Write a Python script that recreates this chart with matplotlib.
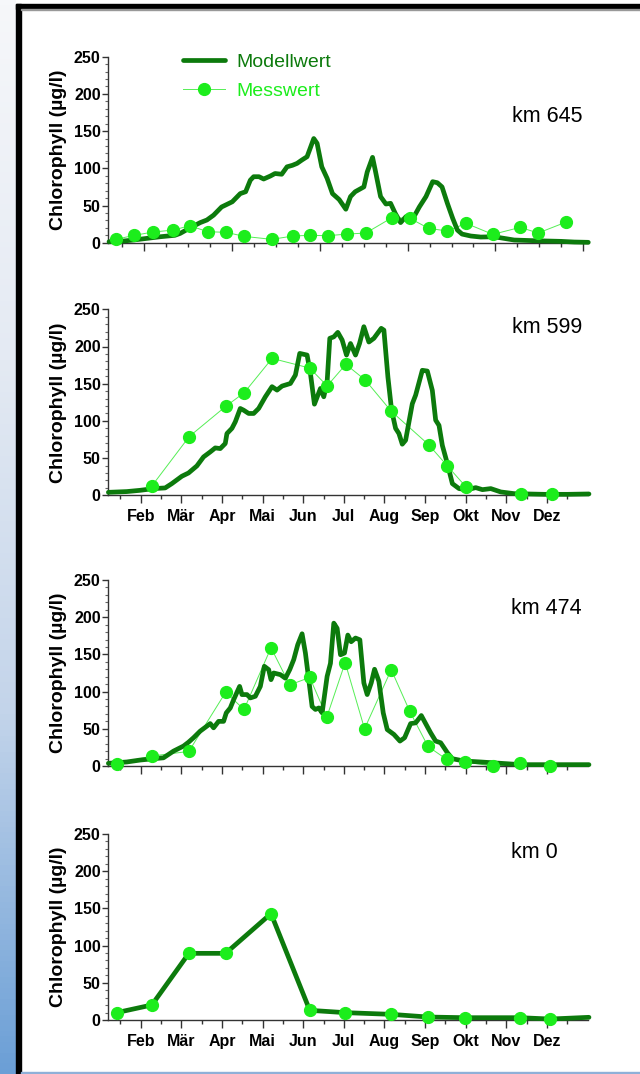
import numpy as np
import matplotlib.pyplot as plt
from matplotlib.ticker import MultipleLocator, FixedLocator, NullFormatter
from matplotlib.colors import LinearSegmentedColormap
from matplotlib.patches import Rectangle
from matplotlib.lines import Line2D

plt.rcParams['font.family'] = ['Liberation Sans', 'DejaVu Sans']

# Daten (Tag im Jahr, Chlorophyll in µg/l)
monate = ['Feb', 'Mär', 'Apr', 'Mai', 'Jun', 'Jul', 'Aug', 'Sep', 'Okt', 'Nov', 'Dez']
stationen = ['km 645', 'km 599', 'km 474', 'km 0']

# km 645
mod645_t = [6.75, 15, 25, 35, 45, 56, 60, 67.5, 75, 80, 85, 91, 99, 105, 109, 112.5, 115, 119,
            122.5, 127.5, 131, 136, 140, 144, 147.5, 151, 155, 160, 162.5, 166, 170, 174, 179,
            184, 187.5, 191, 197.5, 200, 204, 206, 210, 214, 217.5, 221, 225, 229, 235, 239,
            244, 249, 252.5, 256, 260, 264, 267.5, 271, 277.5, 285, 295, 302.5, 310, 325, 345,
            355, 365.5]
mod645_v = [1.3, 1.8, 3.6, 5.8, 8, 9.9, 12.5, 20, 27, 30.5, 37, 48, 55, 66, 68.5, 84, 88.7, 88.7,
            85.6, 89.6, 93, 92, 102, 104, 106.6, 111, 115.6, 140, 133.5, 102, 86.5, 66, 58,
            45, 62, 68.5, 75, 95, 114.7, 97.7, 62, 52, 52.9, 39.4, 27, 35, 35, 48,
            62, 82, 80.6, 75, 53, 32.7, 17, 11.6, 9, 7.6, 8, 5.8, 3.6, 2.7, 1.8,
            0.9, 0.5]
mess645_t = [11.7, 25.7, 39.5, 55, 67, 80.7, 94.5, 108, 128.5, 144.5, 157, 170.5, 185, 199,
             218.5, 232, 246, 260, 274, 294, 314.5, 328, 349]
mess645_v = [4.5, 9.9, 14.3, 17, 22.8, 14.8, 13.9, 8.5, 4.5, 9, 9.9, 9.4, 11.6, 13,
             33.6, 32.7, 19.3, 15.7, 26, 11.2, 20.6, 13, 27.8]

# km 599
mod599_t = [6.25, 20, 30, 40, 48.75, 53.75, 61.25, 66.25, 72.5, 77.5, 82.5, 86.25, 90, 93.75,
            95, 98.75, 101.25, 105, 107.5, 111.25, 115, 118.75, 123.75, 128.75, 132.5, 136.25,
            142.5, 146.25, 149.5, 155, 157.5, 160.5, 165, 167.5, 170, 172, 175, 178, 181.25,
            184.5, 187.5, 191.25, 194.25, 197.5, 201.25, 205, 210.5, 212.5, 215.5, 218.25,
            221.25, 223.75, 226.25, 228.75, 233.75, 236.25, 241.25, 245, 248.75, 251.25,
            253.75, 256.25, 260, 263.75, 268.75, 275, 281.25, 286.25, 292.5, 300, 310, 332.5,
            350, 366]
mod599_v = [4, 5, 6.7, 9, 9.9, 15.7, 25.6, 30, 39.5, 51.6, 58.3, 63.7, 62.8, 69.6,
            83, 90, 98.7, 116.7, 114.4, 110, 110, 116.7, 132.4, 146, 141.4, 146.8,
            150.3, 161.6, 190.7, 188.5, 163.8, 122.5, 143.6, 132.4, 152.6, 211, 213, 219, 208.7,
            188.5, 204, 188.5, 204, 226.6, 206, 211, 224.4, 222, 159, 114.4,
            90, 83, 68.7, 74, 123, 134.6, 168, 167, 141, 101,
            94, 67, 42.6, 15.7, 9, 7.6, 10.3, 7.6, 9, 4.5, 2.2, 1.3,
            1.3, 1.8]
mess599_t = [39, 66.8, 94, 108, 128.8, 157, 170, 184, 198.5, 218, 246, 260, 274, 315, 338]
mess599_v = [13, 79, 119.4, 138, 184, 171, 147, 176, 155, 113, 68, 39.5, 11.2, 2.2, 2.2]

# km 474
mod474_t = [6.25, 20, 30, 40, 47.5, 55, 62.5, 66.25, 70, 75, 80, 82.5, 85, 88.75, 92.5, 94.5,
            97.5, 100, 104.5, 106.25, 110, 112.5, 116.25, 120, 123, 126.25, 128, 130, 135,
            138.75, 142, 145, 148, 151.25, 153.75, 156.25, 158.75, 161.25, 163.75, 166.25,
            170, 172.5, 175, 177.5, 180, 183, 185.5, 188, 191.25, 194.5, 197.5, 200, 203,
            205.5, 208.75, 212, 215, 220, 224.5, 228, 232.5, 236.25, 240.5, 243.75, 247.5,
            251.25, 255, 260, 263.75, 272.5, 285, 300, 315, 335, 350, 366]
mod474_v = [3.6, 5.4, 8, 9.8, 11, 20, 26.8, 32, 38, 46.9, 53.6, 57, 51.3, 60, 60, 71.4,
            78, 89, 107, 96, 96, 91.5, 93.7, 107, 134, 129.5, 116, 125, 122.8,
            118, 129.5, 143, 163, 177.7, 151.8, 116, 80, 76, 78, 71.4,
            120.5, 138, 192, 185, 149.5, 151.8, 176, 167, 172, 169.6, 111.6, 96, 111.6,
            130, 113.8, 71.4, 49, 42.4, 33.5, 38, 57, 58, 67.8, 57, 44.6,
            33.5, 31.2, 17.9, 9.8, 6.7, 5.4, 3.6, 1.8, 1.8, 1.8, 1.8]
mess474_t = [12.5, 38.8, 66.5, 94, 107.8, 128, 142, 157, 169.8, 183.5, 198, 218, 231.8,
             245.5, 259.5, 273, 294, 314.5, 337]
mess474_v = [3.1, 13.4, 19.6, 99, 76, 159, 109, 119, 66, 139, 50, 129.5, 73.7,
             26.3, 8.9, 5.4, 0, 3.6, 0]

# km 0
mod0_t = [12.5, 38.8, 66.5, 94, 128, 157, 183.5, 218, 245.5, 273, 314.5, 337, 366]
mod0_v = [9.9, 20.2, 89.6, 89.6, 143, 13, 9.9, 7.6, 4, 3.1, 3.1, 1.3, 3.6]
mess0_t = [12.5, 38.8, 66.5, 94, 128, 157, 183.5, 218, 245.5, 273, 314.5, 337]
mess0_v = [9.9, 20.2, 89.6, 89.6, 143, 13, 9.9, 7.6, 4, 3.1, 3.1, 1.3]

modell = [(mod645_t, mod645_v), (mod599_t, mod599_v), (mod474_t, mod474_v), (mod0_t, mod0_v)]
messung = [(mess645_t, mess645_v), (mess599_t, mess599_v), (mess474_t, mess474_v), (mess0_t, mess0_v)]

# Layout (Pixel)
W, H = 640, 1074
ax_top = [56.7, 309.3, 580, 834]
ax_h = 186
ax_left, ax_w = 108.3, 480
km_pos = [(0.987, 0.677), (0.987, 0.90), (0.987, 0.845), (0.937, 0.903)]

col_mod = '#0c7a0c'
col_mess = '#1ced1c'
col_mess_line = '#55ee55'

fig = plt.figure(figsize=(W / 100, H / 100), dpi=100)

# Rahmen / Hintergrund
gax = fig.add_axes([0, 0, 16 / W, 1])
cmap = LinearSegmentedColormap.from_list('bl', ['#f6f7fa', '#e4eaf3', '#c3d4ea', '#6b9fd6'])
gax.imshow(np.linspace(0, 1, 200).reshape(-1, 1), aspect='auto', cmap=cmap)
gax.axis('off')
fig.add_artist(Rectangle((16 / W, 0), 5 / W, 1 - 4 / H, color='black', transform=fig.transFigure))
fig.add_artist(Rectangle((16 / W, 1 - 9 / H), 1, 5 / H, color='black', transform=fig.transFigure))
fig.add_artist(Rectangle((21 / W, 1 - 10 / H), 1, 1 / H, color='#999999', transform=fig.transFigure))
fig.add_artist(Rectangle((21 / W, 0), 1, 2 / H, color='#8fb0d8', transform=fig.transFigure))

maj_x = [30.42 * k for k in range(1, 12)]
min_x = [30.42 * (k + 0.5) for k in range(12)]
maj_x1 = [33.2 + 65.7 * k for k in range(6)]
min_x1 = [16.8 + 16.42 * k for k in range(22)]

for i in range(4):
    ax = fig.add_axes([ax_left / W, 1 - (ax_top[i] + ax_h) / H, ax_w / W, ax_h / H])
    t, v = messung[i]
    ax.plot(t, v, color=col_mess_line, linewidth=0.7, clip_on=False, zorder=2)
    ax.plot(t, v, linestyle='none', marker='o', markersize=8.5,
            markerfacecolor=col_mess, markeredgecolor=col_mess, clip_on=False, zorder=4)
    t, v = modell[i]
    lm, = ax.plot(t, v, color=col_mod, linewidth=3.4, solid_joinstyle='round',
                  solid_capstyle='round', clip_on=False, zorder=3)

    ax.set_xlim(6.2, 365.5)
    ax.set_ylim(0, 250)
    ax.spines['top'].set_visible(False)
    ax.spines['right'].set_visible(False)
    for s in ['left', 'bottom']:
        ax.spines[s].set_color('#333333')
        ax.spines[s].set_linewidth(1)

    ax.yaxis.set_major_locator(MultipleLocator(50))
    ax.yaxis.set_minor_locator(MultipleLocator(10))
    ax.tick_params(axis='y', which='major', length=4.5, width=1, pad=1, labelsize=11.5,
                   colors='#333333', labelcolor='black')
    ax.tick_params(axis='y', which='minor', length=2.5, width=0.8, colors='#666666')
    for lab in ax.get_yticklabels():
        lab.set_fontweight('bold')

    if i == 0:
        ax.xaxis.set_major_locator(FixedLocator(maj_x1))
        ax.xaxis.set_minor_locator(FixedLocator([m for m in min_x1 if all(abs(m - a) > 2 for a in maj_x1)]))
    else:
        ax.xaxis.set_major_locator(FixedLocator(maj_x))
        ax.xaxis.set_minor_locator(FixedLocator(min_x))
    ax.tick_params(axis='x', which='major', length=6, width=1, pad=4, colors='#333333', labelcolor='black')
    ax.tick_params(axis='x', which='minor', length=3, width=1, colors='#333333')
    if i in (1, 3):
        ax.set_xticklabels(monate, fontsize=11.5, fontweight='bold')
    else:
        ax.xaxis.set_major_formatter(NullFormatter())

    ax.set_ylabel('Chlorophyll (µg/l)', fontsize=14, fontweight='bold')
    ax.yaxis.set_label_coords(-0.086, 0.5)

    ax.text(km_pos[i][0], km_pos[i][1], stationen[i], transform=ax.transAxes,
            ha='right', va='center', fontsize=15.5)

    if i == 0:
        proxy = Line2D([], [], color=col_mess_line, linewidth=0.7, marker='o', markersize=8.5,
                       markerfacecolor=col_mess, markeredgecolor=col_mess)
        ax.legend([lm, proxy], ['Modellwert', 'Messwert'], loc='upper left',
                  bbox_to_anchor=(0.156, 1.02), frameon=False,
                  fontsize=14, handlelength=2.16, handletextpad=0.6, labelspacing=0.62,
                  borderpad=0, borderaxespad=0, numpoints=1, labelcolor=[col_mod, col_mess])

fig.savefig('out.png', dpi=100)
